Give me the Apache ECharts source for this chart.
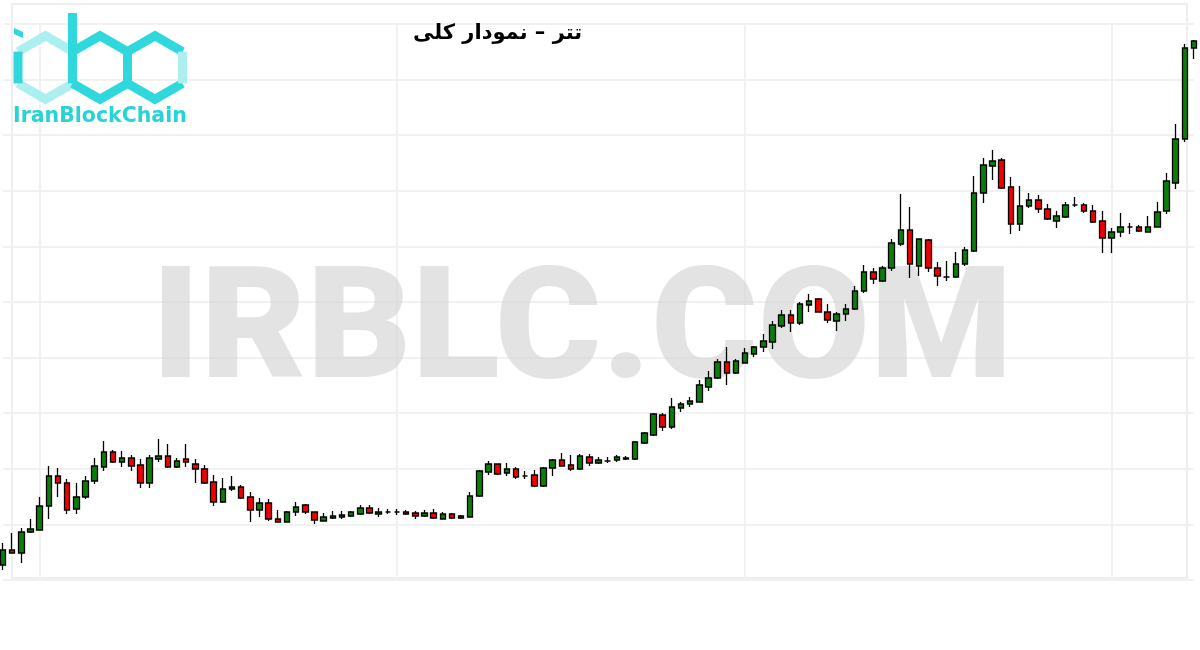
<!DOCTYPE html>
<html><head><meta charset="utf-8">
<script src="https://cdn.jsdelivr.net/npm/echarts@6/dist/echarts.min.js"></script>
<style>html,body{margin:0;padding:0;background:#fff}#c{width:1200px;height:650px}</style>
</head><body><div id="c"></div>
<script>
const opens = [15,30,27,48,50,74,104,97,71,83, 99,113,128,118,122,115,97,121,124,113, 121,116,111,98,78,91,93,83,70,77, 61,58,68,75,68,59,62,63,64,66, 72,66,68,68,68,67,64,67,61,66, 62,63,84,108,116,107,111,104,105,94, 112,120,115,111,123,117,119,120,121,121, 137,145,165,153,172,176,178,193,202,218, 207,217,226,233,238,254,265,257,275,281, 268,259,266,271,289,308,299,312,336,350, 314,340,312,303,303,316,329,387,414,420, 393,356,374,380,371,359,363,375,375,369, 359,342,348,353,353,348,353,369,397,441, 532];
const closes = [30,27,48,51,74,104,97,70,83,99, 114,128,118,122,114,97,122,124,113,119, 118,111,97,78,91,93,82,70,77,61, 58,68,73,68,60,63,64,65,68,72, 67,68,68,68,66,64,67,62,66,62, 64,84,109,116,106,111,103,104,94,112, 120,114,111,124,117,120,119,123,122,138, 147,166,153,173,176,179,195,202,218,207, 219,227,233,239,255,265,257,276,279,268, 260,266,271,289,308,301,312,337,350,316, 341,312,304,303,316,330,387,415,419,392, 356,374,380,371,361,364,375,375,369,358, 342,348,353,353,349,353,368,399,441,532, 539];
const lows = [10,27,17,47,50,61,83,66,66,81, 96,109,117,113,109,92,92,118,112,112, 113,97,96,74,77,89,81,58,63,59, 58,58,64,66,56,59,61,61,63,65, 66,63,66,65,65,61,63,61,61,61, 61,63,83,105,105,104,101,101,93,93, 104,114,109,110,114,116,117,118,120,120, 136,144,149,151,168,173,178,189,201,195, 206,217,223,228,231,252,248,255,268,268, 257,249,259,270,287,296,298,309,334,302, 304,308,294,299,302,314,328,377,400,391, 346,349,372,367,360,352,362,373,367,357, 327,327,343,346,348,348,353,366,391,438, 521];
const highs = [37,47,52,61,83,114,112,101,97,104, 122,139,130,129,125,121,125,141,136,122, 136,121,115,105,102,104,95,88,82,81, 70,69,78,76,68,67,69,69,69,75, 75,72,71,71,70,69,70,71,68,67, 65,88,110,119,116,117,113,109,110,113, 121,127,125,126,126,123,123,125,124,139, 148,167,167,182,178,183,200,209,221,233, 221,232,234,246,259,270,270,278,286,282, 276,268,276,294,315,312,314,341,386,373, 341,341,318,319,328,333,404,422,430,422, 403,394,387,385,376,369,378,383,377,375, 369,352,367,357,355,364,378,407,456,536, 540];
const categories = opens.map((_, i) => String(i + 1));
const verticalGridAt = [4, 43, 81, 121];
const titleText = 'تتر – نمودار کلی';
const watermarkText = 'IRBLC.COM';
const logoText = 'IranBlockChain';

const candleData = opens.map((o, i) => [o, closes[i], lows[i], highs[i]]);

// logo geometry (pointy-top hexagons)
const A = 27.5, B = 31.75, CY = 67.5;
function hex(cx) {
  return {
    top: [cx, CY - B], ur: [cx + A, CY - B / 2], lr: [cx + A, CY + B / 2],
    bot: [cx, CY + B], ll: [cx - A, CY + B / 2], ul: [cx - A, CY - B / 2]
  };
}
const hi = hex(45.5), hb = hex(100), hc = hex(155);
const DARK = '#2fd8dc', LIGHT = '#abeff1';
function pl(points, color) {
  return { type: 'polyline', shape: { points }, style: { stroke: color, lineWidth: 9, fill: null, lineJoin: 'miter' }, z: 20 };
}
const logo = [
  pl([hi.ul, hi.top, hi.ur], LIGHT),
  pl([hi.lr, hi.bot, hi.ll], LIGHT),
  pl([hi.ll, hi.ul], DARK),
  { type: 'polygon', shape: { points: [[14, 28], [23, 32], [23, 38], [14, 34]] }, style: { fill: DARK }, z: 20 },
  pl([[hb.ul[0], 13], hb.ul, hb.ll], DARK),
  pl([hb.ul, hb.top, hb.ur, hb.lr, hb.bot, hb.ll], DARK),
  pl([hc.lr, hc.bot, hc.ll, hc.ul, hc.top, hc.ur], DARK),
  pl([hc.ur, hc.lr], LIGHT),
  { type: 'text', left: 13, top: 106, z: 20, style: { text: logoText, fill: '#28d3d7', font: 'bold 20.5px "DejaVu Sans"' } }
];

const chart = echarts.init(document.getElementById('c'), null, { renderer: 'canvas' });
chart.setOption({
  animation: false,
  backgroundColor: '#ffffff',
  title: {
    text: titleText, left: 408, top: 18,
    textStyle: { fontSize: 21, fontWeight: 'bold', color: '#000', fontFamily: '"DejaVu Sans", sans-serif' }
  },
  grid: { left: 3, right: 6, top: 24, bottom: 70 },
  xAxis: {
    type: 'category', data: categories, boundaryGap: false,
    axisLine: { show: false }, axisTick: { show: false }, axisLabel: { show: false },
    splitLine: { show: true, interval: (idx) => verticalGridAt.includes(idx), lineStyle: { color: '#f1f1f1', width: 2 } }
  },
  yAxis: {
    type: 'value', min: 0, max: 556, interval: 55.6,
    axisLine: { show: false }, axisTick: { show: false }, axisLabel: { show: false },
    splitLine: { show: true, lineStyle: { color: '#f1f1f1', width: 2 } }
  },
  graphic: [
    { type: 'rect', shape: { x: 12, y: 4, width: 1175, height: 574 }, style: { fill: null, stroke: '#eeeeee', lineWidth: 2 }, z: 0 },
    { type: 'text', x: 582, y: 338, scaleX: 1.05, originX: 0, originY: 0, z: 1, style: { text: watermarkText, fill: '#d2d2d2', opacity: 0.62, font: '900 155px Roboto, "DejaVu Sans", sans-serif', align: 'center', verticalAlign: 'middle' } },
    ...logo
  ],
  series: [{
    type: 'candlestick', data: candleData, clip: false, barWidth: 6,
    itemStyle: { color: '#0a7d0a', color0: '#f00000', borderColor: '#000', borderColor0: '#000', borderColorDoji: '#000', borderWidth: 1.3 }
  }]
});
</script></body></html>
